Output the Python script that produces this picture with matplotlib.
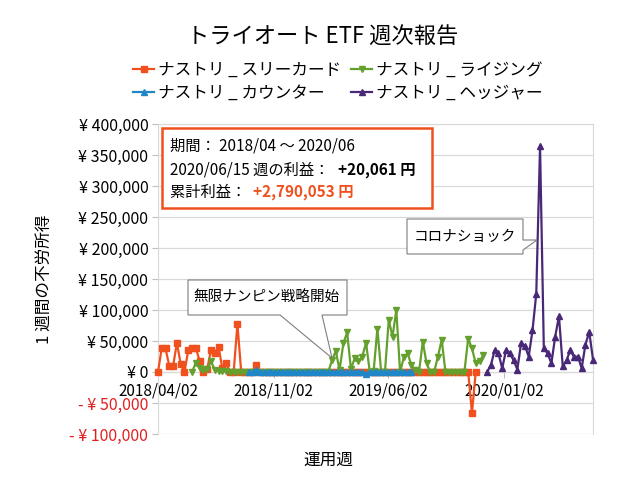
import numpy as np
import matplotlib
matplotlib.use("Agg")
import matplotlib.pyplot as plt
import matplotlib.dates as mdates
from matplotlib.patches import Polygon, Rectangle
from matplotlib.ticker import FuncFormatter, MultipleLocator
import datetime as dt

plt.rcParams['font.family'] = ['Noto Sans CJK JP', 'DejaVu Sans']

# ---------------- data ----------------
start_date = dt.date(2018, 4, 2)
names = ['ナストリ _ スリーカード', 'ナストリ _ ライジング', 'ナストリ _ カウンター', 'ナストリ _ ヘッジャー']
colors = ['#f0501e', '#64a02d', '#1f86c8', '#4a2878']
markers = ['s', 'v', '^', '^']

# weekly values, each series starts at a week index
three_card_start = 0
three_card = [0, 39000, 38000, 9000, 10000, 47000, 13000, 0, 35000, 38000,
              39000, 18000, 0, 5000, 35000, 30000, 41000, 6000, 14000, 0,
              0, 77000, 0, 0, 0, 0, 11000] + [0] * 56 + [-66000, 0]

rising_start = 9
rising = [0, 15000, 6000, 3000, 5000, 17000, 4000, 2000, 1000, 1000] + [0] * 27 + \
         [19000, 34000, 3000, 46000, 64000, 5000, 22000, 17000, 25000, 47000,
          0, 1000, 70000, 0, 0, 84000, 57000, 100000, 0, 24000,
          30000, 11000, 3000, 0, 49000, 14000, 0, 0, 25000, 52000,
          0, 0, 0, 0, 0, 0, 54000, 38000, 14000, 17000, 27000]

counter_start = 24
counter = [0, 0, 4000] + [0] * 28 + [-3000] + [0] * 12

hedger_start = 87
hedger = [0, 11000, 35000, 30000, 6000, 35000, 30000, 19000, 4000, 47000,
          42000, 25000, 67000, 126000, 364000, 38000, 30000, 14000, 57000, 90000,
          9000, 19000, 35000, 24000, 25000, 6000, 44000, 65000, 20061]

series = [(three_card_start, three_card), (rising_start, rising),
          (counter_start, counter), (hedger_start, hedger)]

tick_dates = [dt.date(2018, 4, 2), dt.date(2018, 11, 2), dt.date(2019, 6, 2), dt.date(2020, 1, 2)]
end_date = dt.date(2020, 6, 15)

title = 'トライオート ETF 週次報告'
ylabel = '1 週間の不労所得'
xlabel = '運用週'
period_text = '期間： 2018/04 ～ 2020/06'
week_label = '2020/06/15 週の利益： '
week_profit = '+20,061 円'
total_label = '累計利益： '
total_profit = '+2,790,053 円'
callout1 = '無限ナンピン戦略開始'
callout2 = 'コロナショック'

# ---------------- figure ----------------
W, H = 640, 480
fig = plt.figure(figsize=(6.4, 4.8), dpi=100)
ax = fig.add_axes([158 / W, 1 - 434 / H, (593 - 158) / W, (434 - 124) / H])

def wk_dates(s, n):
    return [start_date + dt.timedelta(days=7 * (s + k)) for k in range(n)]

handles = []
zs = [3, 4, 5, 6]
for (s, vals), c, m, z, nm in zip(series, colors, markers, zs, names):
    h, = ax.plot(wk_dates(s, len(vals)), vals, color=c, marker=m, markersize=4.5,
                 linewidth=1.6, zorder=z, label=nm, clip_on=False)
    handles.append(h)

ax.set_xlim(start_date, end_date)
ax.set_ylim(-100000, 400000)
ax.yaxis.set_major_locator(MultipleLocator(50000))

def yfmt(v, pos):
    v = int(round(v))
    if v < 0:
        return '- ¥ {:,}'.format(-v)
    return '¥ {:,}'.format(v)

ax.yaxis.set_major_formatter(FuncFormatter(yfmt))
ax.set_xticks(tick_dates)
ax.xaxis.set_major_formatter(mdates.DateFormatter('%Y/%m/%d'))

ax.grid(axis='y', color='#d9d9d9', linewidth=0.9, zorder=0)
for sp in ax.spines.values():
    sp.set_color('#d9d9d9')
ax.spines['bottom'].set_position(('data', 0))
ax.spines['bottom'].set_zorder(1)

ax.tick_params(axis='y', length=4, color='#bfbfbf', labelsize=11.5, pad=3, labelcolor='#000000')
ax.tick_params(axis='x', length=4, color='#bfbfbf', labelsize=11, pad=3.5, labelcolor='#000000')
fig.canvas.draw()
for t, v in zip(ax.get_yticklabels(), ax.get_yticks()):
    if v < 0:
        t.set_color('#e02020')

ax.set_ylabel(ylabel, fontsize=12, labelpad=12)
fig.text(328 / W, 1 - 460 / H, xlabel, ha='center', va='center', fontsize=12)
fig.text(323 / W, 1 - 37 / H, title, ha='center', va='center', fontsize=16)

# legend
fig.legend([handles[0], handles[2], handles[1], handles[3]],
           [names[0], names[2], names[1], names[3]],
           ncol=2, loc='upper left', bbox_to_anchor=(126 / W, 1 - 55 / H),
           frameon=False, fontsize=12, handlelength=1.3, handletextpad=0.2,
           columnspacing=0.6, labelspacing=0.35, borderaxespad=0)

# info box
box = Rectangle((162 / W, 1 - 208 / H), (432 - 162) / W, (208 - 128) / H,
                transform=fig.transFigure, facecolor='white', edgecolor='#f0501e',
                linewidth=1.8, zorder=10)
fig.patches.append(box)
fs = 11
fig.text(170 / W, 1 - 146 / H, period_text, fontsize=fs, va='center', ha='left', zorder=11)
t2 = fig.text(170 / W, 1 - 170 / H, week_label, fontsize=fs, va='center', ha='left', zorder=11)
t3 = fig.text(170 / W, 1 - 192 / H, total_label, fontsize=fs, va='center', ha='left', zorder=11)
fig.canvas.draw()
r = fig.canvas.get_renderer()
b2 = t2.get_window_extent(r)
b3 = t3.get_window_extent(r)
fig.text((b2.x1 + 5) / W, 1 - 170 / H, week_profit, fontsize=fs, va='center', ha='left',
         fontweight='bold', zorder=11)
fig.text((b3.x1 + 3) / W, 1 - 192 / H, total_profit, fontsize=fs, va='center', ha='left',
         fontweight='bold', color='#f0501e', zorder=11)

# callouts
def fig_poly(pts):
    return Polygon([(x / W, 1 - y / H) for x, y in pts], closed=True, transform=fig.transFigure,
                   facecolor='white', edgecolor='#7f7f7f', linewidth=0.8, zorder=10)

fig.patches.append(fig_poly([(188, 280), (347, 280), (347, 315), (322, 315), (332, 358),
                             (280, 315), (188, 315)]))
fig.text(267 / W, 1 - 297 / H, callout1, fontsize=10.5, ha='center', va='center', zorder=11)
fig.patches.append(fig_poly([(407, 219), (523, 219), (523, 240), (537, 240), (523, 250),
                             (523, 254), (407, 254)]))
fig.text(465 / W, 1 - 237 / H, callout2, fontsize=10.5, ha='center', va='center', zorder=11)

fig.savefig('out.png', dpi=100)
